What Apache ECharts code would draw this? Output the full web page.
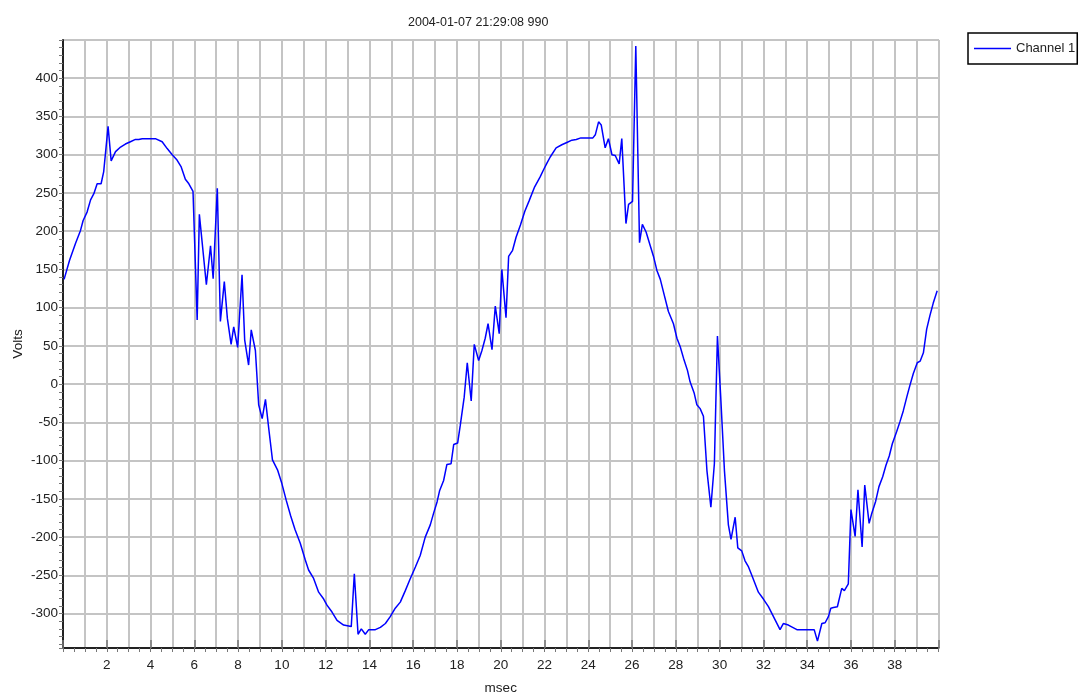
<!DOCTYPE html>
<html>
<head>
<meta charset="utf-8">
<title>Channel 1 waveform</title>
<script src="https://cdn.jsdelivr.net/npm/echarts@6/dist/echarts.min.js"></script>
<style>
  html, body { margin: 0; padding: 0; background: #fff; }
  #chart { width: 1080px; height: 698px; }
</style>
</head>
<body>
<div id="chart"></div>
<script>
// Recorded trace: time in msec and voltage in volts
const timeMs = [
  0.05, 0.3, 0.57, 0.8, 0.92, 1.1, 1.26, 1.41, 1.56, 1.74, 1.86, 2.06, 2.2, 2.4, 2.63, 2.85,
  3.08, 3.31, 3.46, 3.62, 4.22, 4.53, 4.76, 4.99, 5.21, 5.4, 5.59, 5.75, 5.94, 6.13, 6.23, 6.55,
  6.74, 6.86, 7.05, 7.19, 7.37, 7.51, 7.68, 7.8, 7.98, 8.18, 8.3, 8.48, 8.6, 8.79, 8.94, 9.1,
  9.25, 9.4, 9.57, 9.8, 10.0, 10.2, 10.4, 10.6, 10.84, 11.07, 11.22, 11.45, 11.68, 11.91, 12.06, 12.29,
  12.52, 12.82, 13.17, 13.31, 13.48, 13.63, 13.81, 13.97, 14.27, 14.5, 14.73, 14.95, 15.18, 15.41, 15.64, 15.84,
  16.1, 16.32, 16.55, 16.78, 16.93, 17.09, 17.21, 17.39, 17.54, 17.73, 17.85, 18.03, 18.15, 18.33, 18.47, 18.65,
  18.79, 18.99, 19.14, 19.29, 19.42, 19.6, 19.75, 19.93, 20.05, 20.24, 20.36, 20.54, 20.7, 20.9, 21.1, 21.3,
  21.55, 21.8, 21.95, 22.11, 22.26, 22.53, 22.79, 23.02, 23.25, 23.45, 23.66, 24.21, 24.32, 24.47, 24.59, 24.77,
  24.92, 25.08, 25.23, 25.41, 25.53, 25.72, 25.84, 26.02, 26.17, 26.34, 26.47, 26.64, 26.83, 26.98, 27.13, 27.29,
  27.43, 27.66, 27.89, 28.05, 28.2, 28.35, 28.53, 28.65, 28.84, 28.96, 29.11, 29.26, 29.42, 29.6, 29.76, 29.9,
  30.05, 30.22, 30.4, 30.52, 30.71, 30.83, 31.01, 31.16, 31.32, 31.47, 31.62, 31.77, 32.0, 32.23, 32.46, 32.76,
  32.91, 33.14, 33.53, 34.32, 34.47, 34.67, 34.82, 34.97, 35.08, 35.2, 35.38, 35.58, 35.7, 35.88, 36.0, 36.19,
  36.32, 36.51, 36.63, 36.83, 36.95, 37.13, 37.28, 37.45, 37.6, 37.75, 37.89, 38.09, 38.24, 38.39, 38.55, 38.7,
  38.85, 39.03, 39.16, 39.31, 39.46, 39.61, 39.76, 39.94
];
const volts = [
  137, 162, 184, 201, 214, 225, 241, 249, 262, 262, 278, 337, 292, 304, 310, 314,
  317, 320, 320, 321, 321, 317, 308, 300, 293, 284, 268, 262, 252, 84, 222, 130,
  181, 138, 256, 82, 134, 86, 52, 75, 48, 143, 58, 25, 71, 44, -27, -45,
  -20, -58, -99, -112, -130, -152, -172, -190, -208, -230, -243, -254, -272, -281, -289, -298,
  -309, -315, -317, -248, -327, -320, -327, -321, -321, -318, -313, -304, -293, -285, -270, -256,
  -239, -224, -200, -184, -169, -154, -139, -126, -105, -104, -79, -77, -54, -17, 28, -22,
  52, 31, 44, 60, 79, 45, 102, 66, 150, 87, 167, 175, 192, 208, 226, 240,
  258, 271, 280, 289, 297, 309, 313, 316, 319, 320, 322, 322, 326, 343, 339, 309,
  321, 300, 299, 288, 321, 210, 235, 239, 442, 185, 209, 199, 181, 167, 149, 137,
  121, 95, 79, 60, 49, 34, 18, 3, -12, -27, -32, -42, -113, -161, -104, 63,
  -17, -113, -184, -203, -174, -214, -218, -231, -239, -250, -261, -272, -281, -291, -304, -321,
  -313, -315, -321, -321, -336, -313, -312, -304, -293, -292, -291, -267, -270, -261, -164, -199,
  -138, -213, -132, -182, -169, -153, -134, -121, -106, -94, -78, -62, -49, -35, -17, -1,
  14, 28, 30, 41, 72, 90, 106, 122
];

const seriesName = 'Channel 1';
const chartTitle = '2004-01-07 21:29:08 990';
const xRange = [0, 40];
const yRange = [-345, 450];

const FONT = "'Liberation Sans', Arial, sans-serif";
const GRID_COLOR = '#c4c4c4';
const TEXT_COLOR = '#222';

const points = timeMs.map((t, i) => [t, volts[i]]);

const chart = echarts.init(document.getElementById('chart'), null, { renderer: 'canvas' });

const baseX = {
  type: 'value',
  min: xRange[0],
  max: xRange[1],
  position: 'bottom',
  gridIndex: 0
};

chart.setOption({
  animation: false,
  backgroundColor: '#fff',
  title: {
    text: chartTitle,
    left: 403,
    top: 11,
    textStyle: { fontFamily: FONT, fontSize: 12.5, fontWeight: 'normal', color: TEXT_COLOR }
  },
  legend: {
    data: [{ name: seriesName, icon: 'rect' }],
    left: 968,
    top: 33,
    orient: 'vertical',
    padding: [8, 2, 8, 6],
    itemWidth: 37,
    itemHeight: 1.6,
    itemGap: 0,
    borderColor: '#000',
    borderWidth: 1.5,
    borderRadius: 0,
    textStyle: { fontFamily: FONT, fontSize: 13, color: TEXT_COLOR, padding: [0, 0, 0, 0], lineHeight: 15 }
  },
  grid: {
    left: 63,
    top: 40,
    right: 141.5,
    bottom: 50,
    outerBoundsMode: 'none',
    containLabel: false,
    show: true,
    borderColor: '#000',
    borderWidth: 1,
    backgroundColor: '#fff'
  },
  xAxis: [
    // labels, axis line and the 1 msec grid
    Object.assign({}, baseX, {
      interval: 1,
      name: 'msec',
      nameLocation: 'middle',
      nameGap: 33,
      nameMoveOverlap: false,
      nameTextStyle: { fontFamily: FONT, fontSize: 13.5, color: TEXT_COLOR },
      axisLine: { onZero: false, lineStyle: { color: '#222', width: 2 } },
      axisTick: { show: false },
      axisLabel: {
        margin: 10,
        fontFamily: FONT,
        fontSize: 13.5,
        color: TEXT_COLOR,
        formatter: v => (v > 0 && v < 40 && v % 2 === 0) ? String(v) : ''
      },
      splitLine: { show: true, lineStyle: { color: GRID_COLOR, width: 2 } }
    }),
    // major ticks every 2 msec, drawn inside the plot
    Object.assign({}, baseX, {
      interval: 2,
      axisLine: { show: false, onZero: false },
      axisTick: { show: true, inside: true, length: 8, lineStyle: { color: '#777', width: 1.5 } },
      axisLabel: { show: false },
      splitLine: { show: false }
    }),
    // minor ticks every 0.5 msec, below the axis line
    Object.assign({}, baseX, {
      interval: 0.5,
      axisLine: { show: false, onZero: false },
      axisTick: { show: true, inside: false, length: 4, lineStyle: { color: '#777', width: 1 } },
      axisLabel: { show: false },
      splitLine: { show: false }
    })
  ],
  yAxis: [
    {
      type: 'value',
      position: 'left',
      min: yRange[0],
      max: yRange[1],
      splitNumber: 16,
      minInterval: 50,
      maxInterval: 50,
      name: 'Volts',
      nameLocation: 'middle',
      nameGap: 38,
      nameMoveOverlap: false,
      nameTextStyle: { fontFamily: FONT, fontSize: 13.5, color: TEXT_COLOR },
      axisLine: { onZero: false, lineStyle: { color: '#222', width: 2 } },
      axisTick: { show: false },
      axisLabel: {
        margin: 5,
        fontFamily: FONT,
        fontSize: 13.5,
        color: TEXT_COLOR,
        formatter: v => (v % 50 === 0 && v < 450) ? String(v) : ''
      },
      splitLine: { show: true, lineStyle: { color: GRID_COLOR, width: 2 } }
    },
    // fine ticks every 10 V
    {
      type: 'value',
      position: 'left',
      min: yRange[0],
      max: yRange[1],
      splitNumber: 80,
      minInterval: 10,
      maxInterval: 10,
      axisLine: { show: false, onZero: false },
      axisTick: { show: true, inside: false, length: 4, lineStyle: { color: '#777', width: 1 } },
      axisLabel: { show: false },
      splitLine: { show: false }
    }
  ],
  series: [
    {
      name: seriesName,
      type: 'line',
      xAxisIndex: 0,
      yAxisIndex: 0,
      data: points,
      symbol: 'none',
      lineStyle: { color: '#0000ff', width: 1.5 },
      itemStyle: { color: '#0000ff' }
    }
  ]
});
</script>
</body>
</html>
